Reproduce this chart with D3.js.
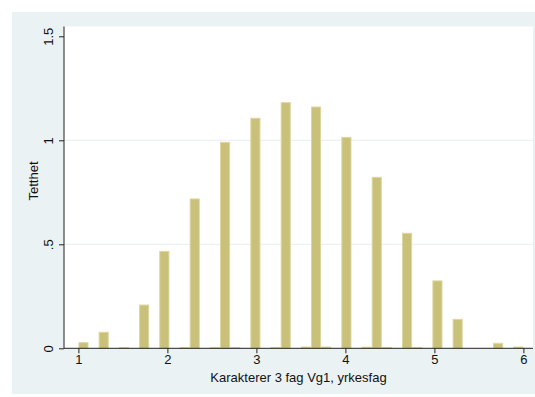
<!DOCTYPE html>
<html>
<head>
<meta charset="utf-8">
<script src="https://cdn.jsdelivr.net/npm/d3@7"></script>
<style>
  html, body { margin: 0; padding: 0; background: #ffffff; }
  svg { display: block; font-family: "Liberation Sans", Arial, sans-serif; }
</style>
</head>
<body>
<svg id="chart" width="535" height="397"></svg>
<script>
// ---- data ----
const binStart = 1;          // lower edge of first bin
const binEnd = 6;            // upper edge of last bin
const binCount = 44;
const density = [
  0.027, 0, 0.077, 0, 0.003, 0, 0.208, 0, 0.466, 0,
  0.003, 0.718, 0, 0.003, 0.990, 0.003, 0, 1.106, 0, 0.003,
  1.181, 0, 0.006, 1.160, 0.006, 0, 1.014, 0, 0.005, 0.822,
  0.004, 0, 0.553, 0.004, 0, 0.324, 0, 0.139, 0, 0,
  0, 0.024, 0, 0.006
];
const xTicks = [1, 2, 3, 4, 5, 6];
const yTicks = [0, 0.5, 1, 1.5];
const yTickLabels = ["0", ".5", "1", "1.5"];
const gridValues = [0.5, 1];
const xTitle = "Karakterer 3 fag Vg1, yrkesfag";
const yTitle = "Tetthet";

// ---- layout ----
const svg = d3.select("#chart");
const outer = { x: 12, y: 12, w: 535, h: 382 };
const plot = { left: 64, top: 26.5, right: 533, bottom: 348.3 };

svg.append("rect").attr("x", outer.x).attr("y", outer.y)
  .attr("width", outer.w).attr("height", outer.h).attr("fill", "#eaf2f3");
svg.append("rect").attr("x", plot.left).attr("y", plot.top)
  .attr("width", plot.right - plot.left).attr("height", plot.bottom - plot.top)
  .attr("fill", "#ffffff");

const x = d3.scaleLinear().domain([1, 6]).range([78.4, 523.4]);
const y = d3.scaleLinear().domain([0, 1.5]).range([plot.bottom, 36.3]);

// gridlines
svg.append("g").selectAll("line").data(gridValues).join("line")
  .attr("x1", plot.left).attr("x2", plot.right)
  .attr("y1", d => y(d)).attr("y2", d => y(d))
  .attr("stroke", "#e6eff1").attr("stroke-width", 1);

// bars
const bw = (binEnd - binStart) / binCount;
const bins = density.map((v, i) => ({ x0: binStart + i * bw, x1: binStart + (i + 1) * bw, v }));
svg.append("g").selectAll("rect").data(bins.filter(b => b.v > 0)).join("rect")
  .attr("x", d => x(d.x0) + 0.5)
  .attr("width", d => x(d.x1) - x(d.x0) - 1)
  .attr("y", d => y(d.v))
  .attr("height", d => Math.max(0.8, y(0) - y(d.v)))
  .attr("fill", "#c9c07a")
  .attr("stroke", "#ddd6a0")
  .attr("stroke-width", 1);

// x axis
const xAxis = svg.append("g").attr("transform", `translate(0,${plot.bottom})`)
  .call(d3.axisBottom(x).tickValues(xTicks).tickFormat(d3.format("d")).tickSize(5).tickSizeOuter(0));
xAxis.select(".domain").attr("d", `M${plot.left},0H${plot.right}`).attr("stroke", "#222");
xAxis.selectAll(".tick line").attr("stroke", "#222");
xAxis.selectAll(".tick text").attr("font-size", 13).attr("fill", "#111")
  .attr("font-family", "Liberation Sans, Arial, sans-serif").attr("dy", "0.6em");

// y axis
const yAxis = svg.append("g").attr("transform", `translate(${plot.left},0)`)
  .call(d3.axisLeft(y).tickValues(yTicks).tickFormat((d, i) => yTickLabels[i]).tickSize(5).tickSizeOuter(0));
yAxis.select(".domain").attr("d", `M0,${plot.bottom}V${plot.top}`).attr("stroke", "#222");
yAxis.selectAll(".tick line").attr("stroke", "#222");
yAxis.selectAll(".tick text")
  .attr("font-size", 13).attr("fill", "#111")
  .attr("font-family", "Liberation Sans, Arial, sans-serif")
  .attr("x", null).attr("dy", null)
  .attr("text-anchor", "middle")
  .attr("transform", "translate(-11,0) rotate(-90)");

// titles
svg.append("text").attr("x", (plot.left + plot.right) / 2).attr("y", 382)
  .attr("text-anchor", "middle").attr("font-size", 13).attr("fill", "#111")
  .text(xTitle);
svg.append("text").attr("transform", `translate(38,181) rotate(-90)`)
  .attr("text-anchor", "middle").attr("font-size", 13).attr("fill", "#111")
  .text(yTitle);
</script>
</body>
</html>
